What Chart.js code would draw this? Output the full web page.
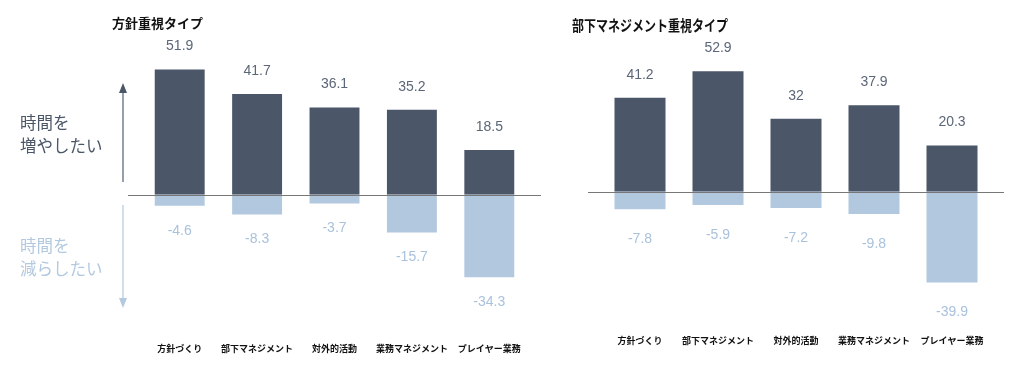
<!DOCTYPE html>
<html lang="ja">
<head>
<meta charset="utf-8">
<script src="https://cdn.jsdelivr.net/npm/chart.js@4/dist/chart.umd.min.js"></script>
<style>
  html, body { margin: 0; padding: 0; background: #fff; }
  body { width: 1024px; height: 373px; position: relative; overflow: hidden;
         font-family: "Noto Sans CJK JP", "Noto Sans", sans-serif; }
  .box { position: absolute; top: 0; height: 373px; }
  .title { position: absolute; font-weight: bold; color: #111; white-space: nowrap; transform-origin: left top; }
  .note { position: absolute; left: 20px; font-size: 16.5px; line-height: 23px; }
</style>
</head>
<body>
<div class="box" style="left:0;width:560px"><canvas id="leftChart"></canvas></div>
<div class="box" style="left:560px;width:464px"><canvas id="rightChart"></canvas></div>

<div class="title" style="left:112px;top:13px;font-size:13px">方針重視タイプ</div>
<div class="title" style="left:572px;top:14px;font-size:15px;transform:scaleX(0.8)">部下マネジメント重視タイプ</div>

<div class="note" style="top:111px;color:#4b5668">時間を<br>増やしたい</div>
<div class="note" style="top:234px;color:#b3c9e0">時間を<br>減らしたい</div>

<svg width="20" height="240" style="position:absolute;left:113px;top:78px">
  <line x1="10" y1="14" x2="10" y2="104" stroke="#5d6a7c" stroke-width="1.3"/>
  <polygon points="10,5 6,15 14,15" fill="#4b5668"/>
  <line x1="10" y1="127" x2="10" y2="220" stroke="#b8cce2" stroke-width="1.3"/>
  <polygon points="10,230 6,220 14,220" fill="#b3c9e0"/>
</svg>

<script>
  // categories and values (hours change, %)
  const categories = ['方針づくり', '部下マネジメント', '対外的活動', '業務マネジメント', 'プレイヤー業務'];
  const policyIncrease = [51.9, 41.7, 36.1, 35.2, 18.5];
  const policyDecrease = [-4.6, -8.3, -3.7, -15.7, -34.3];
  const staffIncrease = [41.2, 52.9, 32, 37.9, 20.3];
  const staffDecrease = [-7.8, -5.9, -7.2, -9.8, -39.9];

  const DARK = '#4b5668';
  const LIGHT = '#b1c8df';

  /* zero line, a bit wider than the bars */
  const zeroLine = {
    id: 'zeroLine',
    afterDatasetsDraw(chart) {
      const { ctx, chartArea, scales } = chart;
      const y = Math.round(scales.y.getPixelForValue(0)) + 0.5;
      ctx.save();
      ctx.strokeStyle = '#777';
      ctx.lineWidth = 1.2;
      ctx.beginPath();
      ctx.moveTo(chartArea.left - 13, y);
      ctx.lineTo(chartArea.right + 13, y);
      ctx.stroke();
      ctx.restore();
    },
  };

  /* value labels above / below each bar */
  const valueLabels = {
    id: 'valueLabels',
    afterDatasetsDraw(chart) {
      const { ctx } = chart;
      const below = chart.options.plugins.valueLabels.below;
      ctx.save();
      ctx.font = '14px "Liberation Sans", Arial, sans-serif';
      ctx.textAlign = 'center';
      ctx.textBaseline = 'middle';
      chart.data.datasets.forEach((ds, i) => {
        const meta = chart.getDatasetMeta(i);
        meta.data.forEach((bar, j) => {
          const v = ds.data[j];
          ctx.fillStyle = v >= 0 ? '#5b6678' : '#a9c2dc';
          const y = v >= 0 ? bar.y - 23 : bar.y + below;
          ctx.fillText(String(v), bar.x, y);
        });
      });
      ctx.restore();
    },
  };

  function makeChart(id, inc, dec, pad, tickPad, barPct, below) {
    return new Chart(document.getElementById(id), {
      type: 'bar',
      data: {
        labels: categories,
        datasets: [
          { label: '増やしたい', data: inc, backgroundColor: DARK, barPercentage: barPct, categoryPercentage: 1 },
          { label: '減らしたい', data: dec, backgroundColor: LIGHT, barPercentage: barPct, categoryPercentage: 1 },
        ],
      },
      options: {
        responsive: true,
        maintainAspectRatio: false,
        animation: false,
        layout: { padding: pad },
        plugins: {
          legend: { display: false },
          tooltip: { enabled: false },
          valueLabels: { below: below },
        },
        scales: {
          x: {
            stacked: true,
            grid: { display: false, drawTicks: false },
            border: { display: false },
            ticks: {
              padding: tickPad,
              color: '#111',
              font: { size: 9, weight: 'bold', family: '"Noto Sans CJK JP", sans-serif' },
              maxRotation: 0,
              autoSkip: false,
            },
          },
          y: {
            stacked: true,
            min: -60,
            max: 60,
            display: false,
          },
        },
      },
      plugins: [zeroLine, valueLabels],
    });
  }

  makeChart('leftChart', policyIncrease, policyDecrease,
    { left: 141, right: 32, top: 50, bottom: 15 }, 4, 0.645, 25);
  makeChart('rightChart', staffIncrease, staffDecrease,
    { left: 41, right: 33, top: 55, bottom: 20 }, 7, 0.654, 30);
</script>
</body>
</html>
